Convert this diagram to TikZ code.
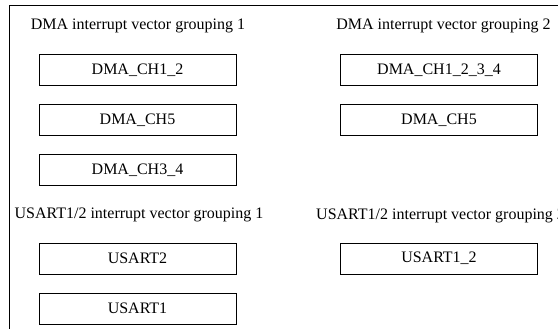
\documentclass[tikz,border=0pt]{standalone}
\usepackage{fontspec}
\setmainfont{Liberation Serif}
\usetikzlibrary{positioning}
\tikzset{
  chbox/.style={rectangle,draw,line width=1pt,minimum width=197pt,
    minimum height=31pt,inner sep=0pt,font=\fontsize{16}{18}\selectfont},
  grptitle/.style={inner sep=0pt,anchor=base,font=\fontsize{16}{18}\selectfont},
  frame/.style={draw,line width=1pt}
}
\begin{document}
\begin{tikzpicture}[x=1pt,y=-1pt,node distance=18pt]
  \useasboundingbox (0,0) rectangle (558,329);
  \clip (0,0) rectangle (558,329);
  \draw[frame] (9,5.3) rectangle (600,360);
  % DMA groupings
  \node[grptitle] (dmaTitleA) at (138,30) {DMA interrupt vector grouping 1};
  \node[chbox] (dmaA12) at (137.5,70.5) {DMA\_CH1\_2};
  \node[chbox,below=of dmaA12] (dmaA5) {DMA\_CH5};
  \node[chbox,below=of dmaA5] (dmaA34) {DMA\_CH3\_4};
  \node[grptitle] (dmaTitleB) at (443.5,30) {DMA interrupt vector grouping 2};
  \node[chbox] (dmaB1234) at (439,70.5) {DMA\_CH1\_2\_3\_4};
  \node[chbox,below=of dmaB1234] (dmaB5) {DMA\_CH5};
  % USART groupings
  \node[grptitle] (usartTitleA) at (139,218.5) {USART1/2 interrupt vector grouping 1};
  \node[chbox] (usartA2) at (137.5,258.5) {USART2};
  \node[chbox,below=of usartA2] (usartA1) {USART1};
  \node[grptitle,anchor=base west] (usartTitleB) at (316,219) {USART1/2 interrupt vector grouping 2};
  \node[chbox] (usartB12) at (439,258.5) {USART1\_2};
\end{tikzpicture}
\end{document}
